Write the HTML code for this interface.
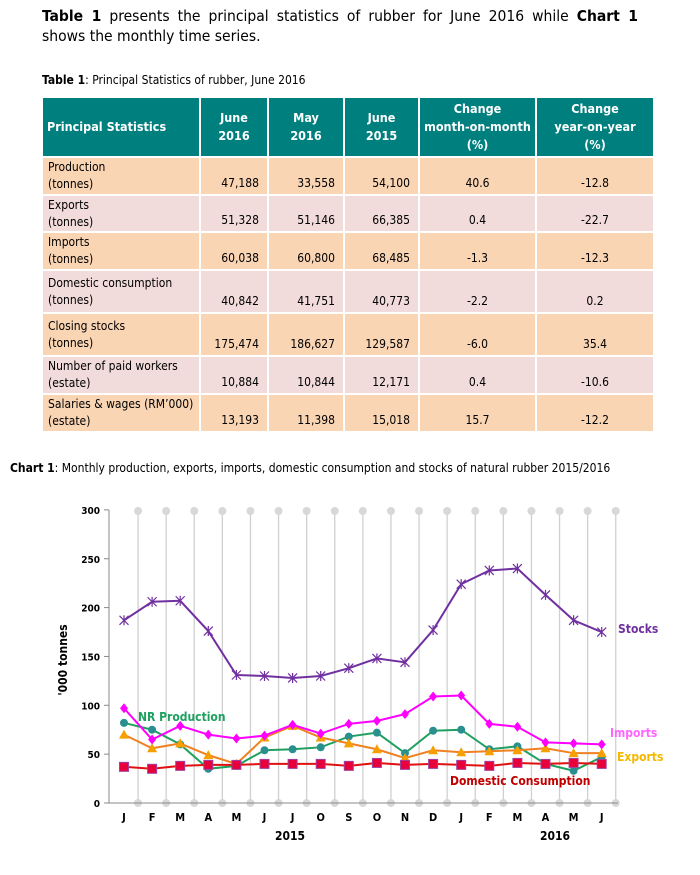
<!DOCTYPE html>
<html><head><meta charset="utf-8"><style>
body{margin:0;width:700px;height:875px;background:#fff;font-family:"DejaVu Sans Condensed","Liberation Sans",sans-serif;color:#000;position:relative;overflow:hidden}
.p{position:absolute;left:42px;top:6px;width:596px;font-size:15.5px;line-height:20px}
.l1{display:block;text-align:justify;text-align-last:justify}
.cap{position:absolute;font-size:12px}
table{position:absolute;left:41px;top:96px;border-collapse:collapse;font-size:12px}
td{border:2px solid #fff;padding:0 5px;line-height:17px}
th{background:#007f7f;color:#fff;border:2px solid #fff;font-size:12.5px;line-height:18px;height:56px}
tr.a td{background:#fad5b4}tr.b td{background:#f2dcdb}
td.n{text-align:right;vertical-align:bottom;padding-bottom:2px;padding-right:8px}
td.c{text-align:center;vertical-align:bottom;padding-bottom:2px}
</style></head><body>
<div class="p"><span class="l1"><b>Table 1</b> presents the principal statistics of rubber for June 2016 while <b>Chart 1</b></span>shows the monthly time series.</div>
<div class="cap" style="left:42px;top:73px"><b>Table 1</b>: Principal Statistics of rubber, June 2016</div>
<table>
<tr><th style="width:151px;text-align:left;padding-left:4px">Principal Statistics</th><th style="width:64px">June<br>2016</th><th style="width:72px">May<br>2016</th><th style="width:71px">June<br>2015</th><th style="width:113px">Change<br>month-on-month<br>(%)</th><th style="width:114px">Change<br>year-on-year<br>(%)</th></tr>
<tr class="a" style="height:38px"><td>Production<br>(tonnes)</td><td class="n">47,188</td><td class="n">33,558</td><td class="n">54,100</td><td class="c">40.6</td><td class="c">-12.8</td></tr>
<tr class="b" style="height:37px"><td>Exports<br>(tonnes)</td><td class="n">51,328</td><td class="n">51,146</td><td class="n">66,385</td><td class="c">0.4</td><td class="c">-22.7</td></tr>
<tr class="a" style="height:38px"><td>Imports<br>(tonnes)</td><td class="n">60,038</td><td class="n">60,800</td><td class="n">68,485</td><td class="c">-1.3</td><td class="c">-12.3</td></tr>
<tr class="b" style="height:43px"><td>Domestic consumption<br>(tonnes)</td><td class="n">40,842</td><td class="n">41,751</td><td class="n">40,773</td><td class="c">-2.2</td><td class="c">0.2</td></tr>
<tr class="a" style="height:43px"><td>Closing stocks<br>(tonnes)</td><td class="n">175,474</td><td class="n">186,627</td><td class="n">129,587</td><td class="c">-6.0</td><td class="c">35.4</td></tr>
<tr class="b" style="height:38px"><td>Number of paid workers<br>(estate)</td><td class="n">10,884</td><td class="n">10,844</td><td class="n">12,171</td><td class="c">0.4</td><td class="c">-10.6</td></tr>
<tr class="a" style="height:38px"><td>Salaries &amp; wages (RM’000)<br>(estate)</td><td class="n">13,193</td><td class="n">11,398</td><td class="n">15,018</td><td class="c">15.7</td><td class="c">-12.2</td></tr>
</table>
<div class="cap" style="left:10px;top:461px"><b>Chart 1</b>: Monthly production, exports, imports, domestic consumption and stocks of natural rubber 2015/2016</div>
<svg id="s" width="700" height="875" style="position:absolute;left:0;top:0" font-family="DejaVu Sans Condensed, Liberation Sans, sans-serif"></svg>
<script>
var s=document.getElementById('s'),h='';
function Y(v){return 803-v*0.977}
function X(i){return 124+i*28.1}
for(var i=0;i<18;i++){var gx=X(i)+14.05;h+='<line x1="'+gx+'" y1="511" x2="'+gx+'" y2="803" stroke="#d0d0d0" stroke-width="1.3"/><circle cx="'+gx+'" cy="511" r="4" fill="#d8d8d8"/><circle cx="'+gx+'" cy="803" r="4" fill="#d8d8d8"/>';}
h+='<line x1="109" y1="510" x2="109" y2="803" stroke="#888"/><line x1="109" y1="803" x2="618" y2="803" stroke="#888"/>';
for(var v=0;v<=300;v+=50){h+='<line x1="104" y1="'+Y(v)+'" x2="109" y2="'+Y(v)+'" stroke="#888"/><text x="100" y="'+(Y(v)+4)+'" font-size="10" font-weight="bold" text-anchor="end">'+v+'</text>';}
var m='JFMAMJJOSONDJFMAMJ';
for(var i=0;i<18;i++){h+='<text x="'+X(i)+'" y="821" font-size="11" font-weight="bold" text-anchor="middle">'+m[i]+'</text>';}
h+='<text x="290" y="840" font-size="12" font-weight="bold" text-anchor="middle">2015</text><text x="555" y="840" font-size="12" font-weight="bold" text-anchor="middle">2016</text>';
h+='<text transform="translate(67,660) rotate(-90)" font-size="12" font-weight="bold" text-anchor="middle">\'000 tonnes</text>';
function line(d,c){var p=d.map(function(v,i){return X(i)+','+Y(v)}).join(' ');h+='<polyline points="'+p+'" fill="none" stroke="'+c+'" stroke-width="2"/>';}
var st=[187,206,207,176,131,130,128,130,138,148,144,177,224,238,240,213,187,175];
var im=[97,65,79,70,66,69,80,71,81,84,91,109,110,81,78,62,61,60];
var pr=[82,75,60,35,38,54,55,57,68,72,51,74,75,55,58,40,33,47];
var ex=[70,56,61,49,40,67,79,67,61,55,46,54,52,53,54,56,51,51];
var dc=[37,35,38,39,39,40,40,40,38,41,39,40,39,38,41,40,41,40];
line(st,'#7030a0');st.forEach(function(v,i){var x=X(i),y=Y(v);h+='<path d="M'+(x-4.5)+' '+(y-4.5)+'L'+(x+4.5)+' '+(y+4.5)+'M'+(x+4.5)+' '+(y-4.5)+'L'+(x-4.5)+' '+(y+4.5)+'M'+x+' '+(y-5)+'L'+x+' '+(y+5)+'" stroke="#7030a0" stroke-width="1.2"/>';});
line(pr,'#1fa060');pr.forEach(function(v,i){h+='<circle cx="'+X(i)+'" cy="'+Y(v)+'" r="4" fill="#2a8f8f"/>';});
line(ex,'#f08020');ex.forEach(function(v,i){var x=X(i),y=Y(v);h+='<polygon points="'+x+','+(y-5)+' '+(x+5)+','+(y+4)+' '+(x-5)+','+(y+4)+'" fill="#f5a000"/>';});
line(im,'#ff00ff');im.forEach(function(v,i){var x=X(i),y=Y(v);h+='<polygon points="'+x+','+(y-5)+' '+(x+4)+','+y+' '+x+','+(y+5)+' '+(x-4)+','+y+'" fill="#ff00ff"/>';});
line(dc,'#e01010');dc.forEach(function(v,i){h+='<rect x="'+(X(i)-4.5)+'" y="'+(Y(v)-4.5)+'" width="9" height="9" fill="#e8003a" stroke="#a040a0" stroke-width="1"/>';});
h+='<text x="618" y="633" font-size="12" font-weight="bold" fill="#7030a0">Stocks</text>';
h+='<text x="610" y="737" font-size="12" font-weight="bold" fill="#ff66ff">Imports</text>';
h+='<text x="617" y="761" font-size="12" font-weight="bold" fill="#f5b800">Exports</text>';
h+='<text x="138" y="721" font-size="12" font-weight="bold" fill="#1fa060">NR Production</text>';
h+='<text x="450" y="785" font-size="12" font-weight="bold" fill="#c00000">Domestic Consumption</text>';
s.innerHTML=h;
</script>
</body></html>
